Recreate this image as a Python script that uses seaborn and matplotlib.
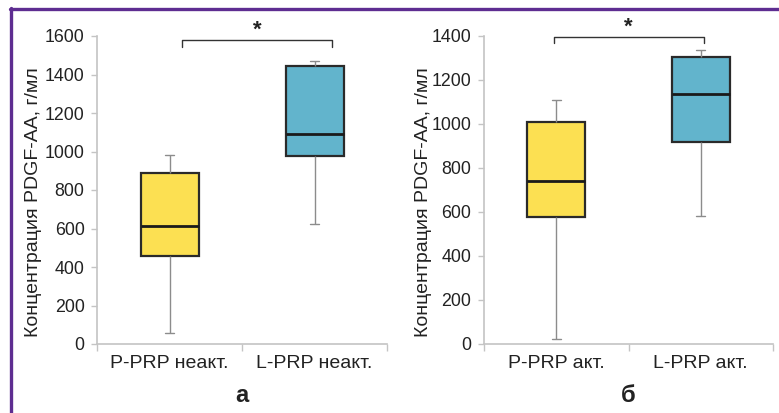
import matplotlib
matplotlib.use("Agg")
import matplotlib.pyplot as plt
import seaborn as sns
import pandas as pd
from matplotlib.lines import Line2D

# ---- data (five-number summaries) ----
groups_a = ["P-PRP неакт.", "L-PRP неакт."]
groups_b = ["P-PRP акт.", "L-PRP акт."]
# min, Q1, median, Q3, max
p_neakt = [56, 455, 613, 887, 982]
l_neakt = [625, 978, 1091, 1444, 1469]
p_akt = [24, 576, 743, 1010, 1109]
l_akt = [582, 916, 1135, 1306, 1335]
yticks_a = [0, 200, 400, 600, 800, 1000, 1200, 1400, 1600]
yticks_b = [0, 200, 400, 600, 800, 1000, 1200, 1400]
ylabel = "Концентрация PDGF-AA, г/мл"
panel_labels = ["а", "б"]
star = "*"

colors = ["#FCE052", "#62B4CC"]

sns.set_style("white")
plt.rcParams["font.family"] = ["Liberation Sans", "DejaVu Sans"]

fig = plt.figure(figsize=(7.79, 4.13), dpi=100)
W, H = 779, 413

def make_ax(left_px, right_px):
    top_px, bottom_px = 36, 344
    return fig.add_axes([left_px / W, 1 - bottom_px / H,
                         (right_px - left_px) / W, (bottom_px - top_px) / H])

ax_a = make_ax(97, 387)
ax_b = make_ax(484, 773)

def draw(ax, groups, vals, yticks, bracket, bracket_y, tick_drop, star_y,
         label, label_x):
    df = pd.DataFrame({
        "group": [groups[0]] * len(vals[0]) + [groups[1]] * len(vals[1]),
        "value": list(vals[0]) + list(vals[1]),
    })
    sns.boxplot(data=df, x="group", y="value", hue="group",
                palette=colors, saturation=1, width=0.4, whis=(0, 100),
                linewidth=1.6, linecolor="#2a2a2a", legend=False, ax=ax,
                capwidths=0.065,
                whiskerprops=dict(color="#8c8c8c", linewidth=1.0),
                capprops=dict(color="#8c8c8c", linewidth=1.0),
                medianprops=dict(color="#1a1a1a", linewidth=2.0),
                boxprops=dict(edgecolor="#2a2a2a", linewidth=1.6))
    ax.set_xlim(-0.5, 1.5)
    ax.set_ylim(yticks[0], yticks[-1])
    ax.set_yticks(yticks)
    ax.set_xticks([0, 1])
    ax.set_xticklabels(groups)
    ax.set_xticks([-0.5, 0.5, 1.5], minor=True)
    ax.tick_params(axis="x", which="major", length=0, pad=8,
                   labelsize=14, labelcolor="#222222")
    ax.tick_params(axis="x", which="minor", length=5, width=1,
                   color="#c4c4c4", direction="out", bottom=True)
    ax.tick_params(axis="y", which="major", length=4, width=1,
                   color="#c4c4c4", direction="out", left=True, pad=5,
                   labelsize=12.8, labelcolor="#222222")
    ax.set_xlabel("")
    ax.set_ylabel(ylabel, fontsize=14, color="#222222")
    ax.yaxis.set_label_coords(label_x, 0.46)
    for s in ["top", "right"]:
        ax.spines[s].set_visible(False)
    for s in ["left", "bottom"]:
        ax.spines[s].set_color("#c4c4c4")
        ax.spines[s].set_linewidth(1.2)
    # significance bracket
    x0, x1 = bracket
    ax.plot([x0, x0, x1, x1], [bracket_y - tick_drop, bracket_y, bracket_y,
                               bracket_y - tick_drop],
            color="#333333", linewidth=1.0, clip_on=False)
    ax.text((x0 + x1) / 2, star_y, star, ha="center", va="center",
            fontsize=16, fontweight="bold", color="#222222", clip_on=False)
    pos = ax.get_position()
    fig.text((pos.x0 + pos.x1) / 2, 1 - 395 / H, label, ha="center",
             va="center", fontsize=17, fontweight="bold", color="#222222")

draw(ax_a, groups_a, [p_neakt, l_neakt], yticks_a, (0.086, 1.12), 1579, 36,
     1630, panel_labels[0], -0.19)
draw(ax_b, groups_b, [p_akt, l_akt], yticks_b, (-0.018, 1.02), 1397, 30,
     1440, panel_labels[1], -0.18)

# purple frame (top and left edges)
purple = "#5E2D91"
fig.add_artist(Line2D([11 / W, 11 / W], [0, 1 - 8 / H], color=purple,
                      linewidth=2.4, transform=fig.transFigure))
fig.add_artist(Line2D([10 / W, 1], [1 - 8.5 / H, 1 - 8.5 / H], color=purple,
                      linewidth=2.4, transform=fig.transFigure))

fig.savefig("out.png", dpi=100)
